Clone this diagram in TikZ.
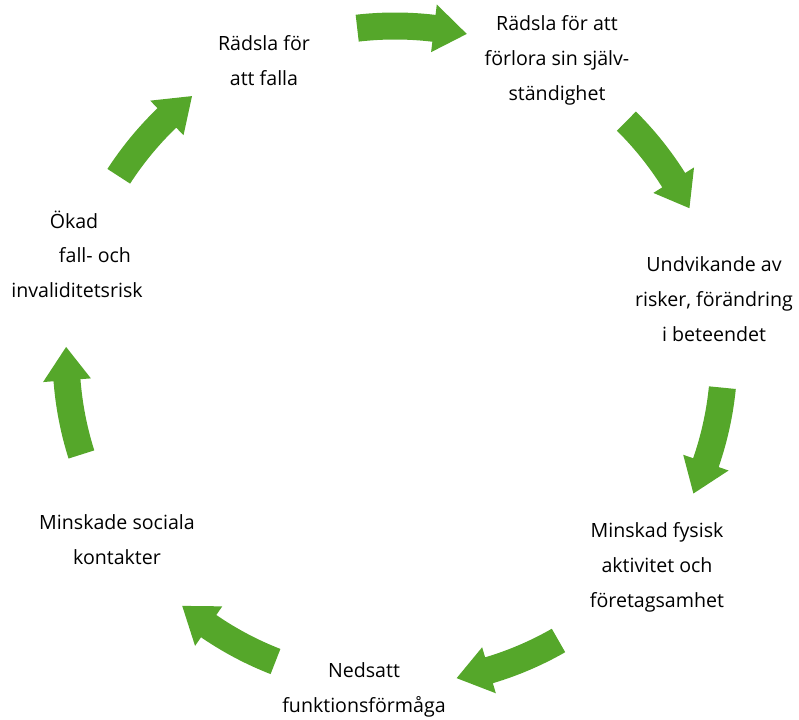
\documentclass[tikz,border=0pt]{standalone}
\usepackage{fontspec}
\setmainfont{Open Sans}
\definecolor{arrowgreen}{RGB}{85,167,42}
\tikzset{
  lbl/.style={align=center, inner sep=0pt, font=\fontsize{19.6}{35}\selectfont},
  lblline/.style={anchor=center, inner sep=0pt, font=\fontsize{19.6}{35}\selectfont},
  cyclearrow/.style={fill=arrowgreen, draw=none}
}
\newcommand{\arcarrow}[3]{% tail angle, head base angle, tip angle
  \fill[cyclearrow] ($(C)+(#1:342.5)$) arc[start angle=#1, end angle=#2, radius=342.5]
    -- ($(C)+(#2:353)$) -- ($(C)+(#3:329)$) -- ($(C)+(#2:305)$)
    -- ($(C)+(#2:315.5)$) arc[start angle=#2, end angle=#1, radius=315.5] -- cycle;
}
\usetikzlibrary{calc}
\begin{document}
\begin{tikzpicture}[x=1pt,y=1pt]
\useasboundingbox (0,0) rectangle (799,719);
\coordinate (C) at (395,364);
\arcarrow{96.6}{83.2}{77.4}
\arcarrow{45.3}{32.1}{26.5}
\arcarrow{-5.7}{-19.1}{-24.9}
\arcarrow{-60.2}{-73.4}{-79.2}
\arcarrow{-111.3}{-124.5}{-130.3}
\arcarrow{-162.4}{-175.6}{-181.4}
\arcarrow{147.1}{133.9}{128.1}
\node[lbl] (n1) at (264,658) {Rädsla för\\att falla};
\node[lbl] (n2) at (557,659) {Rädsla för att\\förlora sin själv-\\ständighet};
\node[lbl] (n3) at (714,420) {Undvikande av\\risker, förändring\\i beteendet};
\node[lbl] (n4) at (657,152) {Minskad fysisk\\aktivitet och\\företagsamhet};
\node[lbl] (n5) at (364,29) {Nedsatt\\funktionsförmåga};
\node[lbl] (n6) at (117,179) {Minskade sociala\\kontakter};
\node[lblline] (n7a) at (74,499) {Ökad};
\node[lblline] (n7b) at (95,464) {fall- och};
\node[lblline] (n7c) at (77,429) {invaliditetsrisk};
\end{tikzpicture}
\end{document}
